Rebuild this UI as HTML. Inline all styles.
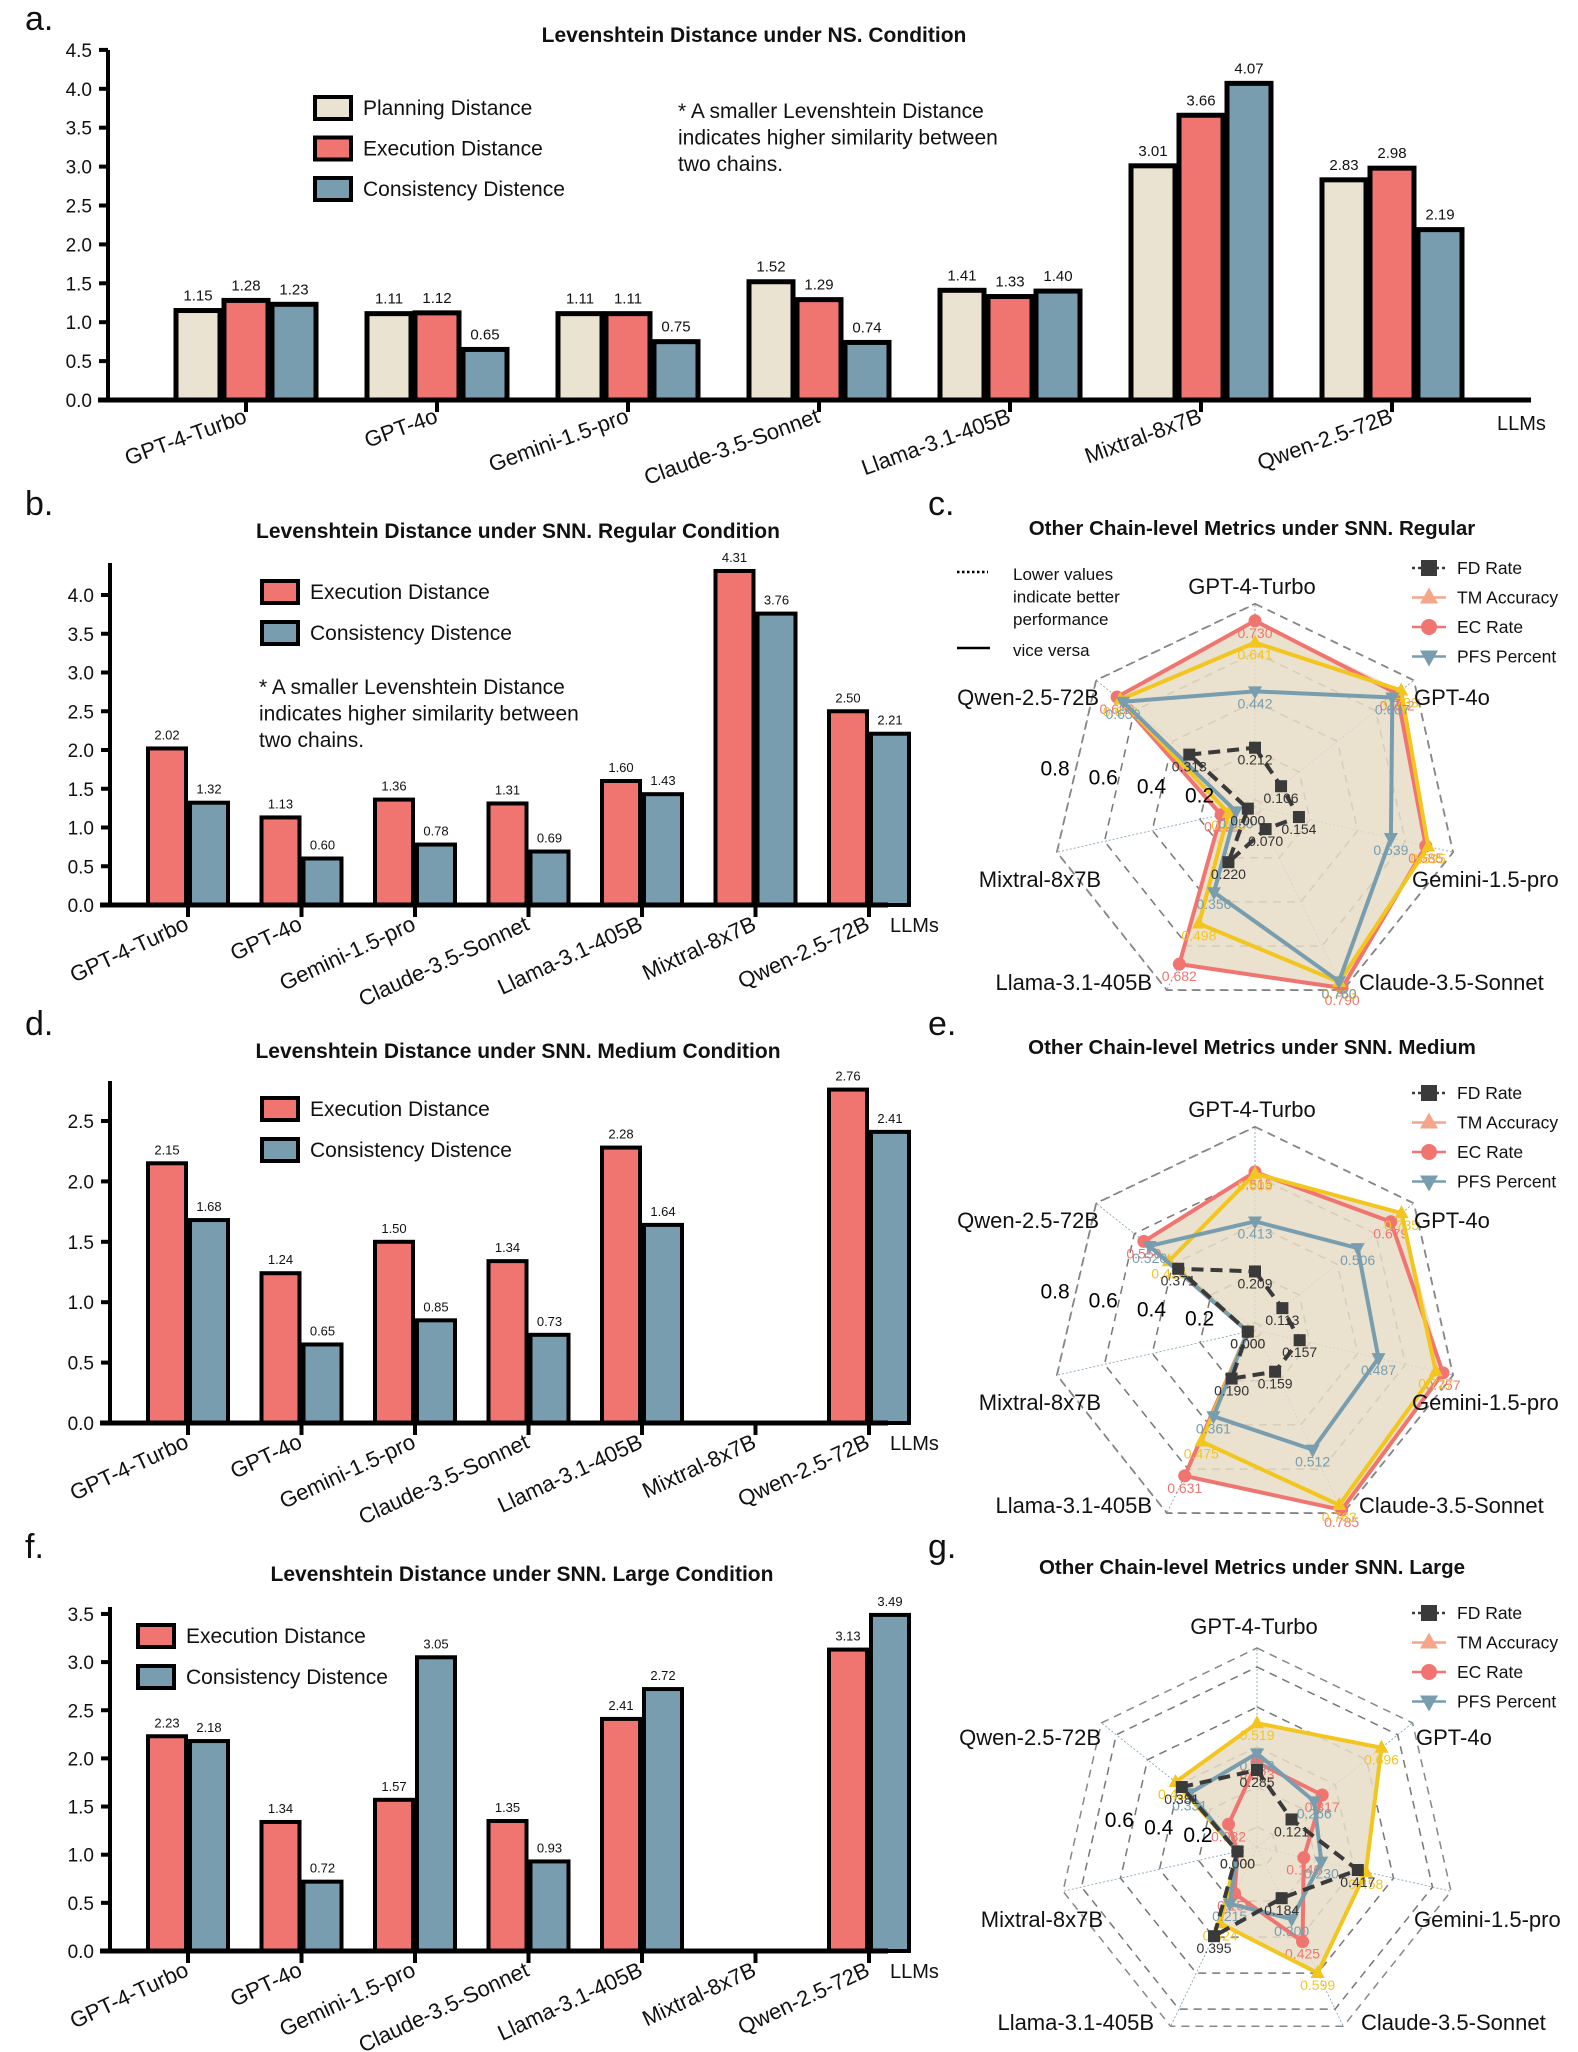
<!DOCTYPE html>
<html><head><meta charset="utf-8">
<style>
html,body{margin:0;padding:0;background:#fff;}
svg{display:block;font-family:"Liberation Sans",Arial,sans-serif;}
</style></head>
<body>
<svg id="fig" width="1578" height="2052" viewBox="0 0 1578 2052" xmlns="http://www.w3.org/2000/svg"></svg>
<script>
// ---------- data ----------
const models = ["GPT-4-Turbo","GPT-4o","Gemini-1.5-pro","Claude-3.5-Sonnet","Llama-3.1-405B","Mixtral-8x7B","Qwen-2.5-72B"];
const nsPlan = [1.15,1.11,1.11,1.52,1.41,3.01,2.83];
const nsExec = [1.28,1.12,1.11,1.29,1.33,3.66,2.98];
const nsCons = [1.23,0.65,0.75,0.74,1.40,4.07,2.19];
const regExec = [2.02,1.13,1.36,1.31,1.60,4.31,2.50];
const regCons = [1.32,0.60,0.78,0.69,1.43,3.76,2.21];
const medExec = [2.15,1.24,1.50,1.34,2.28,0,2.76];
const medCons = [1.68,0.65,0.85,0.73,1.64,0,2.41];
const lrgExec = [2.23,1.34,1.57,1.35,2.41,0,3.13];
const lrgCons = [2.18,0.72,3.05,0.93,2.72,0,3.49];
const ticksA = ["0.0","0.5","1.0","1.5","2.0","2.5","3.0","3.5","4.0","4.5"];
const ticksB = ["0.0","0.5","1.0","1.5","2.0","2.5","3.0","3.5","4.0"];
const ticksD = ["0.0","0.5","1.0","1.5","2.0","2.5"];
const ticksF = ["0.0","0.5","1.0","1.5","2.0","2.5","3.0","3.5"];
// radar (axis order: GPT-4-Turbo clockwise)
const radarAxes = ["GPT-4-Turbo","GPT-4o","Gemini-1.5-pro","Claude-3.5-Sonnet","Llama-3.1-405B","Mixtral-8x7B","Qwen-2.5-72B"];
const regFD = [0.212,0.106,0.154,0.070,0.220,0.0,0.313];
const regTM = [0.641,0.733,0.695,0.763,0.498,0.080,0.673];
const regEC = [0.730,0.712,0.685,0.790,0.682,0.112,0.690];
const regPFS = [0.442,0.687,0.539,0.760,0.356,0.050,0.659];
const medFD = [0.209,0.113,0.157,0.159,0.190,0.0,0.371];
const medTM = [0.608,0.735,0.727,0.763,0.475,0.0,0.420];
const medEC = [0.615,0.679,0.757,0.785,0.631,0.0,0.550];
const medPFS = [0.413,0.506,0.487,0.512,0.361,0.0,0.520];
const lrgFD = [0.285,0.121,0.417,0.184,0.395,0.0,0.381];
const lrgTM = [0.519,0.696,0.458,0.599,0.324,0.0,0.421];
const lrgEC = [0.323,0.317,0.140,0.425,0.158,0.0,0.082];
const lrgPFS = [0.368,0.266,0.230,0.300,0.215,0.0,0.331];
const ringVals = [0,0.2,0.4,0.6,0.8];

// ---------- helpers ----------
const NS="http://www.w3.org/2000/svg";
const svg=document.getElementById('fig');
function mk(tag,attrs,parent,text){const e=document.createElementNS(NS,tag);for(const k in attrs)e.setAttribute(k,attrs[k]);if(text!==undefined)e.textContent=text;(parent||svg).appendChild(e);return e;}
const C_PLAN="#ebe3d1",C_EXEC="#f07571",C_CONS="#789dae",C_TM="#f2c61f",C_FD="#3a3a3a",C_BEIGE="#e6dcc6";

function txt(x,y,s,size,opts,parent,name){
  const o=Object.assign({x:x,y:y,'font-size':size,fill:'#111'},opts||{});
  const t=mk('text',o,parent,s);
  
  
  return t;
}

// ---------- bar chart ----------
function barChart(cfg){
  const g=mk('g',{});
  
  
  const yv=v=>cfg.y0-v*cfg.k;
  const xt=i=>cfg.t0+i*cfg.step;
  const ya=mk('line',{x1:cfg.ax,y1:cfg.top,x2:cfg.ax,y2:cfg.y0+2,stroke:'#000','stroke-width':4},g);
  
  
  cfg.ticks.forEach(t=>{
    const v=parseFloat(t);
    mk('line',{x1:cfg.ax-9,y1:yv(v),x2:cfg.ax,y2:yv(v),stroke:'#000','stroke-width':4},g);
    txt(cfg.ax-16,yv(v)+7,t,19,{'text-anchor':'end'},g,'y-tick-label');
  });
  cfg.series.forEach((s,si)=>{
    s.vals.forEach((v,i)=>{
      const x=xt(i)+cfg.offs[si];
      const r=mk('rect',{x:x+2,y:yv(v),width:cfg.bw-4,height:Math.max(cfg.y0-yv(v),0.1),fill:s.color,stroke:'#000','stroke-width':v>0?cfg.sw:3},g);
      
      
      if(v>0){
        txt(x+cfg.bw/2,yv(v)-cfg.sw-5,v.toFixed(2),cfg.vsize,{'text-anchor':'middle'},g,'value-label');
      }
    });
  });
  const xa=mk('line',{x1:cfg.ax-10,y1:cfg.y0,x2:cfg.xend,y2:cfg.y0,stroke:'#000','stroke-width':5},g);
  
  
  models.forEach((m,i)=>{
    mk('line',{x1:xt(i),y1:cfg.y0,x2:xt(i),y2:cfg.y0+12,stroke:'#000','stroke-width':4},g);
    txt(xt(i)+cfg.lx,cfg.y0+cfg.ly,m,22,{'text-anchor':'end',transform:'rotate('+cfg.rot+' '+(xt(i)+cfg.lx)+' '+(cfg.y0+cfg.ly)+')'},g,'x-tick-label');
  });
  txt(cfg.llmsX,cfg.llmsY,'LLMs',20,{},g,'x-axis-title');
  txt(cfg.titleX,cfg.titleY,cfg.title,21,{'text-anchor':'middle','font-weight':'bold'},g,'chart-title');
  txt(25,cfg.letterY,cfg.letter,34,{},g,'panel-letter');
  cfg.series.forEach((s,si)=>{
    const ly=cfg.legY+si*cfg.legGap;
    const r=mk('rect',{x:cfg.legX,y:ly,width:36,height:22,fill:s.color,stroke:'#000','stroke-width':4},g);
    
    
    txt(cfg.legX+48,ly+18,s.label,21,{},g,'legend-entry');
  });
  if(cfg.note){
    cfg.note.forEach((l,i)=>txt(cfg.noteX,cfg.noteY+i*26.5,l,21,{},g,'note-text'));
  }
}
const NOTE=["* A smaller Levenshtein Distance","indicates higher similarity between","two chains."];

barChart({name:'chart-a',ax:108,top:50,y0:400,k:77.8,t0:246,step:191,bw:48,offs:[-72,-24,24],sw:5,vsize:15,
  ticks:ticksA,xend:1531,lx:2,ly:22,rot:-20,llmsX:1497,llmsY:430,
  title:'Levenshtein Distance under NS. Condition',titleX:754,titleY:42,letter:'a.',letterY:30,
  series:[{key:'planning',vals:nsPlan,color:C_PLAN,label:'Planning Distance'},{key:'execution',vals:nsExec,color:C_EXEC,label:'Execution Distance'},{key:'consistency',vals:nsCons,color:C_CONS,label:'Consistency Distence'}],
  legX:315,legY:97,legGap:40.5,note:NOTE,noteX:678,noteY:118});
barChart({name:'chart-b',ax:110,top:563,y0:905,k:77.5,t0:188,step:113.5,bw:42,offs:[-42,0],sw:4,vsize:13,
  ticks:ticksB,xend:888,lx:2,ly:24,rot:-25,llmsX:890,llmsY:932,
  title:'Levenshtein Distance under SNN. Regular Condition',titleX:518,titleY:538,letter:'b.',letterY:515,
  series:[{key:'execution',vals:regExec,color:C_EXEC,label:'Execution Distance'},{key:'consistency',vals:regCons,color:C_CONS,label:'Consistency Distence'}],
  legX:262,legY:581,legGap:41,note:NOTE,noteX:259,noteY:694});
barChart({name:'chart-d',ax:110,top:1081,y0:1423,k:120.8,t0:188,step:113.5,bw:42,offs:[-42,0],sw:4,vsize:13,
  ticks:ticksD,xend:888,lx:2,ly:24,rot:-25,llmsX:890,llmsY:1450,
  title:'Levenshtein Distance under SNN. Medium Condition',titleX:518,titleY:1058,letter:'d.',letterY:1035,
  series:[{key:'execution',vals:medExec,color:C_EXEC,label:'Execution Distance'},{key:'consistency',vals:medCons,color:C_CONS,label:'Consistency Distence'}],
  legX:262,legY:1098,legGap:41});
barChart({name:'chart-f',ax:110,top:1607,y0:1951,k:96.3,t0:188,step:113.5,bw:42,offs:[-42,0],sw:4,vsize:13,
  ticks:ticksF,xend:888,lx:2,ly:24,rot:-25,llmsX:890,llmsY:1978,
  title:'Levenshtein Distance under SNN. Large Condition',titleX:522,titleY:1581,letter:'f.',letterY:1558,
  series:[{key:'execution',vals:lrgExec,color:C_EXEC,label:'Execution Distance'},{key:'consistency',vals:lrgCons,color:C_CONS,label:'Consistency Distence'}],
  legX:138,legY:1625,legGap:41});

// ---------- radar ----------
function radar(cfg){
  const g=mk('g',{});
  
  
  const n=radarAxes.length;
  const ang=i=>i*2*Math.PI/n;
  const pt=(i,v)=>{const r=cfg.r(v);return [cfg.cx+r*Math.sin(ang(i)),cfg.cy-r*Math.cos(ang(i))];};
  const ptR=(i,r)=>[cfg.cx+r*Math.sin(ang(i)),cfg.cy-r*Math.cos(ang(i))];
  cfg.rings.forEach(rv=>{
    const p=radarAxes.map((a,i)=>ptR(i,cfg.r(rv)).join(',')).join(' ');
    mk('polygon',{points:p,fill:'none',stroke:'#777','stroke-width':1.5,'stroke-dasharray':'8,6'},g);
  });
  const outer=radarAxes.map((a,i)=>ptR(i,cfg.outer).join(',')).join(' ');
  mk('polygon',{points:outer,fill:'none',stroke:'#888','stroke-width':1.5,'stroke-dasharray':'8,6'},g);
  radarAxes.forEach((a,i)=>{const p=ptR(i,cfg.outer);mk('line',{x1:cfg.cx,y1:cfg.cy,x2:p[0],y2:p[1],stroke:'#7a9cb0','stroke-width':0.8,'stroke-dasharray':'2,2'},g);});
  const poly=vals=>vals.map((v,i)=>pt(i,v).join(',')).join(' ');
  const envelope=radarAxes.map((a,i)=>Math.max(cfg.TM[i],cfg.EC[i],cfg.PFS[i]));
  const fillP=mk('polygon',{points:poly(envelope),fill:C_BEIGE,opacity:0.85},g);
  
  
  const series=[
    {key:'ec-rate',vals:cfg.EC,color:C_EXEC,dash:null,mark:'circle'},
    {key:'tm-accuracy',vals:cfg.TM,color:C_TM,dash:null,mark:'tri'},
    {key:'pfs-percent',vals:cfg.PFS,color:C_CONS,dash:null,mark:'tridown'},
    {key:'fd-rate',vals:cfg.FD,color:C_FD,dash:'12,7',mark:'square'}];
  series.forEach(s=>{
    const l=mk('polygon',{points:poly(s.vals),fill:'none',stroke:s.color,'stroke-width':4,'stroke-linejoin':'round'},g);
    if(s.dash)l.setAttribute('stroke-dasharray',s.dash);
    
    
    s.vals.forEach((v,i)=>{
      const p=pt(i,v);let m;
      if(s.mark==='circle')m=mk('circle',{cx:p[0],cy:p[1],r:6.5,fill:s.color},g);
      else if(s.mark==='square')m=mk('rect',{x:p[0]-6,y:p[1]-6,width:12,height:12,fill:s.color},g);
      else if(s.mark==='tri')m=mk('polygon',{points:[p[0],p[1]-8,p[0]-7,p[1]+5,p[0]+7,p[1]+5].join(','),fill:s.color},g);
      else m=mk('polygon',{points:[p[0],p[1]+8,p[0]-7,p[1]-5,p[0]+7,p[1]-5].join(','),fill:s.color},g);
      
      
      const lc=s.key==='fd-rate'?'#333':s.color;
      txt(p[0],p[1]+17,v.toFixed(3),14,{'text-anchor':'middle',fill:lc},g,'radar-value-label');
    });
  });
  cfg.ringLabels.forEach(rl=>{
    const r=cfg.r(rl.v);
    txt(cfg.cx-r*0.983,cfg.cy-r*0.184+6,rl.t,21,{'text-anchor':'middle',fill:'#000'},g,'radial-tick-label');
  });
  const offs=[[-3,-213,'middle'],[159,-102,'start'],[157,80,'start'],[104,183,'start'],[-103,183,'end'],[-154,80,'end'],[-156,-102,'end']];
  radarAxes.forEach((a,i)=>txt(cfg.cx+offs[i][0],cfg.cy+offs[i][1],a,22,{'text-anchor':offs[i][2]},g,'axis-label'));
  txt(1252,cfg.titleY,cfg.title,20.5,{'text-anchor':'middle','font-weight':'bold'},g,'chart-title');
  txt(928,cfg.letterY,cfg.letter,34,{},g,'panel-letter');
  const L=[['FD Rate',C_FD,'square','6,4'],['TM Accuracy','#f4a58a','tri',null],['EC Rate',C_EXEC,'circle',null],['PFS Percent',C_CONS,'tridown',null]];
  L.forEach((e,i)=>{
    const y=cfg.legY+i*29.5;
    const ln=mk('line',{x1:1412,y1:y,x2:1446,y2:y,stroke:e[1],'stroke-width':2.5},g);
    if(e[3])ln.setAttribute('stroke-dasharray','3,3');
    const x=1429;let m;
    if(e[2]==='square')m=mk('rect',{x:x-8,y:y-8,width:16,height:16,fill:e[1]},g);
    else if(e[2]==='circle')m=mk('circle',{cx:x,cy:y,r:8,fill:e[1]},g);
    else if(e[2]==='tri')m=mk('polygon',{points:[x,y-10,x-9,y+6,x+9,y+6].join(','),fill:e[1]},g);
    else m=mk('polygon',{points:[x,y+10,x-9,y-6,x+9,y-6].join(','),fill:e[1]},g);
    
    
    txt(1457,y+6,e[0],17.5,{},g,'legend-entry');
  });
}
const rStd=v=>(v+0.03)*245;
const rLrg=v=>(v+0.1)*200;
radar({name:'radar-regular',cx:1255,cy:807,r:rStd,outer:203,rings:ringVals,FD:regFD,TM:regTM,EC:regEC,PFS:regPFS,
  ringLabels:[{v:0.8,t:'0.8'},{v:0.6,t:'0.6'},{v:0.4,t:'0.4'},{v:0.2,t:'0.2'}],
  title:'Other Chain-level Metrics under SNN. Regular',titleY:535,letter:'c.',letterY:515,legY:568});
radar({name:'radar-medium',cx:1255,cy:1330,r:rStd,outer:203,rings:ringVals,FD:medFD,TM:medTM,EC:medEC,PFS:medPFS,
  ringLabels:[{v:0.8,t:'0.8'},{v:0.6,t:'0.6'},{v:0.4,t:'0.4'},{v:0.2,t:'0.2'}],
  title:'Other Chain-level Metrics under SNN. Medium',titleY:1054,letter:'e.',letterY:1035,legY:1093});
radar({name:'radar-large',cx:1257,cy:1847,r:rLrg,outer:199,rings:ringVals,FD:lrgFD,TM:lrgTM,EC:lrgEC,PFS:lrgPFS,
  ringLabels:[{v:0.6,t:'0.6'},{v:0.4,t:'0.4'},{v:0.2,t:'0.2'}],
  title:'Other Chain-level Metrics under SNN. Large',titleY:1574,letter:'g.',letterY:1558,legY:1613});

const ng=mk('g',{});


mk('line',{x1:957,y1:572,x2:988,y2:572,stroke:'#000','stroke-width':2.5,'stroke-dasharray':'2.5,2.5'},ng);
mk('line',{x1:957,y1:648,x2:990,y2:648,stroke:'#000','stroke-width':2.5},ng);
["Lower values","indicate better","performance"].forEach((l,i)=>txt(1013,580+i*22.5,l,17,{},ng,'note-text'));
txt(1013,656,'vice versa',17,{},ng,'note-text');
</script>
</body></html>
